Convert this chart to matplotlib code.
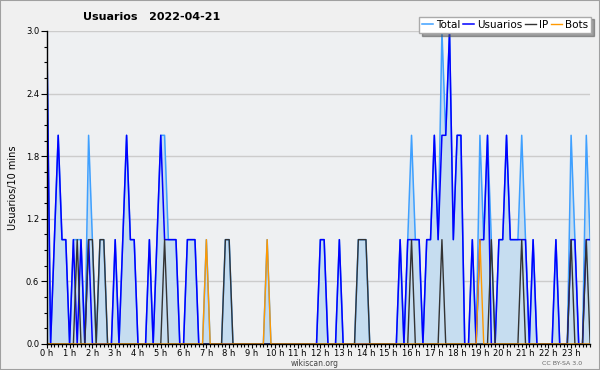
import numpy as np
import matplotlib
matplotlib.use("Agg")
import matplotlib.pyplot as plt
from matplotlib.patches import Rectangle
from matplotlib.ticker import MultipleLocator

# one value per 10 min slot, 6 per hour, 0 h .. 23 h
total = [3, 0, 1, 2, 1, 1,  0, 1, 1, 1, 0, 2,  1, 0, 1, 1, 0, 0,  1, 0, 1, 2, 1, 1,
         0, 0, 0, 1, 0, 1,  2, 2, 1, 1, 1, 0,  0, 1, 1, 1, 0, 0,  1, 0, 0, 0, 0, 1,
         1, 0, 0, 0, 0, 0,  0, 0, 0, 0, 1, 0,  0, 0, 0, 0, 0, 0,  0, 0, 0, 0, 0, 0,
         1, 1, 0, 0, 0, 1,  0, 0, 0, 0, 1, 1,  1, 0, 0, 0, 0, 0,  0, 0, 0, 1, 0, 1,
         2, 1, 1, 0, 1, 1,  2, 1, 3, 2, 3, 1,  2, 2, 0, 0, 1, 0,  2, 1, 2, 1, 0, 1,
         1, 2, 1, 1, 1, 2,  1, 0, 1, 0, 0, 0,  0, 0, 1, 0, 0, 0,  2, 1, 0, 0, 2, 1]

usuarios = [3, 0, 1, 2, 1, 1,  0, 1, 0, 1, 0, 1,  0, 0, 0, 0, 0, 0,  1, 0, 1, 2, 1, 1,
            0, 0, 0, 1, 0, 1,  2, 1, 1, 1, 1, 0,  0, 1, 1, 1, 0, 0,  0, 0, 0, 0, 0, 0,
            0, 0, 0, 0, 0, 0,  0, 0, 0, 0, 0, 0,  0, 0, 0, 0, 0, 0,  0, 0, 0, 0, 0, 0,
            1, 1, 0, 0, 0, 1,  0, 0, 0, 0, 0, 0,  0, 0, 0, 0, 0, 0,  0, 0, 0, 1, 0, 1,
            1, 1, 1, 0, 1, 1,  2, 1, 2, 2, 3, 1,  2, 2, 0, 0, 1, 0,  1, 1, 2, 0, 0, 1,
            1, 2, 1, 1, 1, 1,  1, 0, 1, 0, 0, 0,  0, 0, 1, 0, 0, 0,  1, 1, 0, 0, 1, 1]

ip = [0, 0, 0, 0, 0, 0,  0, 0, 1, 0, 0, 1,  1, 0, 1, 1, 0, 0,  0, 0, 0, 0, 0, 0,
      0, 0, 0, 0, 0, 0,  0, 1, 0, 0, 0, 0,  0, 0, 0, 0, 0, 0,  0, 0, 0, 0, 0, 1,
      1, 0, 0, 0, 0, 0,  0, 0, 0, 0, 0, 0,  0, 0, 0, 0, 0, 0,  0, 0, 0, 0, 0, 0,
      0, 0, 0, 0, 0, 0,  0, 0, 0, 0, 1, 1,  1, 0, 0, 0, 0, 0,  0, 0, 0, 0, 0, 0,
      1, 0, 0, 0, 0, 0,  0, 0, 1, 0, 0, 0,  0, 0, 0, 0, 0, 0,  0, 0, 0, 1, 0, 0,
      0, 0, 0, 0, 0, 1,  0, 0, 0, 0, 0, 0,  0, 0, 0, 0, 0, 0,  1, 0, 0, 0, 1, 0]

bots = [0, 0, 0, 0, 0, 0,  0, 0, 0, 0, 0, 0,  0, 0, 0, 0, 0, 0,  0, 0, 0, 0, 0, 0,
        0, 0, 0, 0, 0, 0,  0, 0, 0, 0, 0, 0,  0, 0, 0, 0, 0, 0,  1, 0, 0, 0, 0, 0,
        0, 0, 0, 0, 0, 0,  0, 0, 0, 0, 1, 0,  0, 0, 0, 0, 0, 0,  0, 0, 0, 0, 0, 0,
        0, 0, 0, 0, 0, 0,  0, 0, 0, 0, 0, 0,  0, 0, 0, 0, 0, 0,  0, 0, 0, 0, 0, 0,
        0, 0, 0, 0, 0, 0,  0, 0, 0, 0, 0, 0,  0, 0, 0, 0, 0, 0,  1, 0, 0, 0, 0, 0,
        0, 0, 0, 0, 0, 0,  0, 0, 0, 0, 0, 0,  0, 0, 0, 0, 0, 0,  0, 0, 0, 0, 0, 0]

hour_labels = [f"{h} h" for h in range(24)]
y_ticks = [0.0, 0.6, 1.2, 1.8, 2.4, 3.0]

x = np.arange(len(total))

fig = plt.figure(figsize=(6, 3.7), dpi=100, facecolor="#f0f0f0")
ax = fig.add_axes([0.078, 0.0703, 0.9055, 0.846], facecolor="#eef0f2")

ax.fill_between(x, total, 0, color="#c6ddf0", lw=0)
ax.plot(x, total, color="#3fa0ff", lw=1.1, label="Total")
ax.plot(x, usuarios, color="#0000ff", lw=1.1, label="Usuarios")
ax.plot(x, ip, color="#333333", lw=1.0, label="IP")
ax.plot(x, bots, color="#ff9900", lw=1.0, label="Bots")

ax.set_xlim(0, len(total) - 1)
ax.set_ylim(0, 3.0)
ax.set_yticks(y_ticks)
ax.set_yticklabels([f"{v:.1f}" for v in y_ticks])
ax.yaxis.set_minor_locator(MultipleLocator(0.15))
ax.set_xticks(np.arange(0, len(total), 6))
ax.set_xticklabels(hour_labels)
ax.xaxis.set_minor_locator(MultipleLocator(1))
ax.tick_params(axis="y", which="major", direction="out", length=4, width=0.8,
               labelsize=6, pad=1.5)
ax.tick_params(axis="x", which="major", direction="out", length=3, width=0.8,
               labelsize=6, pad=0.5)
ax.tick_params(axis="both", which="minor", direction="out", length=2.5, width=0.8)
ax.grid(axis="y", color="#cccccc", lw=1)
ax.set_axisbelow(True)
for s in ["top", "right"]:
    ax.spines[s].set_visible(False)
for s in ["left", "bottom"]:
    ax.spines[s].set_linewidth(1.0)

ax.set_ylabel("Usuarios/10 mins", fontsize=7, labelpad=6)

fig.text(0.252, 0.953, "Usuarios   2022-04-21", fontsize=8, fontweight="bold",
         ha="center", va="center")
fig.text(0.525, 0.017, "wikiscan.org", fontsize=5.5, color="#444444",
         ha="center", va="center")
fig.text(0.937, 0.017, "CC BY-SA 3.0", fontsize=4.5, color="#666666",
         ha="center", va="center")

leg = fig.legend(loc="upper right", bbox_to_anchor=(0.985, 0.955), ncol=4,
                 fontsize=7.5, frameon=True, fancybox=False, shadow=True,
                 framealpha=1, edgecolor="#aaaaaa", handlelength=1.0,
                 handletextpad=0.3, columnspacing=0.3, borderpad=0.3,
                 borderaxespad=0)
leg.get_frame().set_linewidth(1)

fig.add_artist(Rectangle((0, 0), 1, 1, transform=fig.transFigure, fill=False,
                         edgecolor="#a0a0a0", lw=1.5))

fig.savefig("out.png", dpi=100, facecolor=fig.get_facecolor())
